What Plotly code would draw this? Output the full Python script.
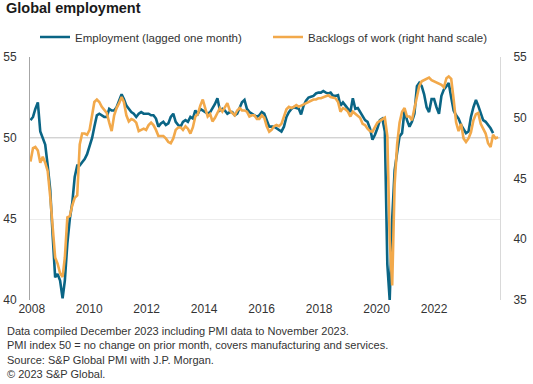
import pandas as pd
import plotly.graph_objects as go

# ---------------- data ----------------
employment = [
    51.1, 51.3, 51.8, 52.2, 50.4, 50.0, 49.6, 48.3, 46.8, 44.0,
    41.4, 41.6, 41.2, 40.1, 41.2, 43.5, 45.0, 46.0, 47.6, 48.3,
    48.3, 48.5, 48.7, 49.0, 49.5, 50.0, 50.7, 51.4, 51.5, 51.4,
    51.3, 51.3, 51.8, 51.7, 51.7, 51.9, 52.3, 52.7, 52.4, 52.0,
    51.8, 51.6, 51.5, 51.3, 51.5, 51.6, 51.5, 51.5, 51.5, 51.4,
    51.4, 51.2, 50.7, 50.9, 51.0, 50.8, 50.9, 51.3, 51.5, 51.0,
    50.8, 50.7, 51.0, 51.1, 51.0, 51.3, 51.2, 51.7, 51.5, 51.8,
    51.7, 51.6, 51.5, 51.6, 51.8, 52.1, 52.45, 51.7, 51.8, 51.7,
    51.5, 51.6, 51.6, 51.4, 51.5, 51.9, 52.2, 52.35, 51.8, 51.6,
    51.5, 51.4, 51.3, 51.4, 51.6, 51.5, 51.1, 50.7, 50.7, 50.7,
    50.6, 50.5, 50.4, 50.7, 51.3, 51.6, 51.8, 51.9, 51.85, 51.8,
    51.45, 52.0, 52.3, 52.5, 52.55, 52.6, 52.75, 52.8, 52.8, 52.9,
    52.8, 52.75, 52.8, 52.6, 52.6, 52.65, 52.0, 52.2, 52.0, 51.8,
    51.6, 52.45, 51.8, 51.85, 51.6, 51.3, 51.1, 51.0, 50.6, 49.9,
    50.2, 50.6, 51.1, 51.2, 50.4, 42.2, 40.0, 45.0, 48.0, 49.1,
    50.1, 50.3, 51.7, 51.1, 50.7, 51.0, 51.5, 53.2, 53.4, 53.2,
    52.7, 51.9, 51.6, 52.4, 52.4, 51.9, 51.5, 52.6, 53.0, 53.2,
    53.4, 52.5, 51.7, 51.4, 51.2, 50.8, 50.5, 50.3, 50.4, 51.3,
    51.9, 52.35, 52.0, 51.5, 51.1, 51.0, 50.8, 50.6, 50.3,
]

backlogs = [
    46.4, 47.5, 47.6, 47.3, 46.3, 46.8, 46.3, 45.6, 43.5, 41.2,
    38.5, 38.0, 37.2, 36.9, 38.5, 41.8, 41.9, 42.8, 43.4, 43.6,
    47.8, 48.7, 48.7, 48.6, 49.0, 50.2, 51.3, 51.5, 51.3, 50.9,
    50.6, 50.4, 49.6, 48.9, 50.2, 50.8, 51.2, 51.7, 51.3, 50.2,
    49.7, 49.9, 49.8, 49.6, 48.9, 49.0, 49.1, 49.0, 49.4, 49.6,
    49.4, 49.0, 48.5, 48.5, 48.5, 48.3, 48.0, 47.9, 48.3, 49.0,
    49.2, 49.2, 49.0, 49.3, 49.1, 48.7, 49.2, 50.1, 50.3, 51.0,
    51.5, 50.8, 50.1, 50.3, 49.7, 50.0, 50.4, 50.8, 50.5, 50.8,
    51.2, 50.6, 50.4, 50.2, 50.6, 50.8, 50.6, 50.6, 50.5, 50.1,
    50.2, 50.2, 49.9, 49.9, 50.2, 50.0, 49.3, 48.85, 49.0, 49.3,
    49.4, 49.3, 49.5, 50.2, 50.7, 50.9, 50.8, 50.9, 51.05, 50.9,
    51.0, 51.1, 51.2, 51.3, 51.4, 51.5, 51.5, 51.6, 51.6, 51.7,
    51.8, 51.85, 51.7, 51.65, 51.6, 51.3, 50.5, 50.8, 50.7, 50.5,
    50.1, 50.5, 50.3, 50.1, 50.0, 49.5, 49.4, 49.1, 48.9, 48.85,
    49.3, 49.6, 49.75, 49.9, 50.0, 48.5, 40.0, 36.2, 44.5, 47.8,
    49.6, 50.5, 50.8, 50.1, 50.1, 49.8, 50.8, 51.8, 52.6, 53.0,
    53.1, 53.2, 53.3, 53.1, 53.0, 52.9, 52.8, 52.7, 52.5, 53.25,
    53.4, 53.2, 51.5, 49.6, 48.9, 49.5, 48.3, 48.0, 48.3, 48.8,
    49.8, 50.3, 50.4, 49.5, 49.1, 48.7, 47.9, 47.6, 48.6, 48.3,
    48.4,
]

start_month = "2008-01-01"
tick_labels = ["2008", "2010", "2012", "2014", "2016", "2018", "2020", "2022"]
left_ticks = [40, 45, 50, 55]
right_ticks = [35, 40, 45, 50, 55]

title = "<b>Global employment</b>"
names = ["Employment (lagged one month)", "Backlogs of work (right hand scale)"]
footnotes = [
    "Data compiled December 2023 including PMI data to November 2023.",
    "PMI index 50 = no change on prior month, covers manufacturing and services.",
    "Source: S&P Global PMI with J.P. Morgan.",
    "\u00a9 2023 S&P Global.",
]

# ---------------- build ----------------
emp_x = pd.date_range(start_month, periods=len(employment), freq="MS")
bkl_x = pd.date_range(start_month, periods=len(backlogs), freq="MS")

t0 = pd.Timestamp(start_month)
month_days = 30.4375
def month_offset(m):
    return t0 + pd.Timedelta(days=m * month_days)

tick_vals = [month_offset(0.5 + 23.36 * i) for i in range(len(tick_labels))]
x_range = [month_offset(-0.2), month_offset(190.8)]

FONT = "Arial, 'Liberation Sans', sans-serif"
BLUE = "#0A6585"
ORANGE = "#F2A94B"
L, R, T, B = 30, 33, 57, 84
PW = 533 - L - R
PH = 384 - T - B

fig = go.Figure()
fig.add_trace(go.Scatter(x=emp_x, y=employment, name=names[0], mode="lines",
                         line=dict(color=BLUE, width=2.6), yaxis="y", legend="legend"))
fig.add_trace(go.Scatter(x=bkl_x, y=backlogs, name=names[1], mode="lines",
                         line=dict(color=ORANGE, width=2.6), yaxis="y2", legend="legend2"))

fig.add_shape(type="line", xref="paper", yref="y", x0=0, x1=1, y0=50, y1=50,
              line=dict(color="#A6A6A6", width=1), layer="below")

leg_common = dict(orientation="h", xanchor="left", yanchor="middle",
                  y=1 + (T - 37) / PH, font=dict(size=11.5, color="#333333"),
                  itemwidth=30, bgcolor="rgba(0,0,0,0)")

fig.update_layout(
    width=533, height=384,
    margin=dict(l=L, r=R, t=T, b=B, autoexpand=False),
    paper_bgcolor="white", plot_bgcolor="white",
    font=dict(family=FONT, size=12, color="#333333"),
    title=dict(text=title, x=6 / 533, xanchor="left", xref="container",
               y=1 - 3 / 384, yanchor="top", yref="container",
               font=dict(size=14.5, color="#1a1a1a", family=FONT)),
    showlegend=True,
    legend=dict(x=(35 - L) / PW, **leg_common),
    legend2=dict(x=(268 - L) / PW, **leg_common),
    xaxis=dict(type="date", range=x_range, tickvals=tick_vals, ticktext=tick_labels,
               showgrid=False, zeroline=False, showline=False, ticks="",
               automargin=False, tickfont=dict(size=12, color="#333333")),
    yaxis=dict(range=[40, 55], tickvals=left_ticks, showgrid=True, gridcolor="#ECECEC",
               gridwidth=1, zeroline=False, showline=True, linecolor="#A6A6A6",
               linewidth=1, ticks="", ticklabelstandoff=10, automargin=False,
               tickfont=dict(size=12, color="#333333")),
    yaxis2=dict(range=[35, 55], tickvals=right_ticks, overlaying="y", side="right",
                showgrid=False, zeroline=False, showline=True, linecolor="#D9D9D9",
                linewidth=1, ticks="", ticklabelstandoff=10, automargin=False,
                tickfont=dict(size=12, color="#333333")),
)

fig.add_annotation(text="<br>".join(footnotes), xref="paper", yref="paper",
                   x=(5 - L) / PW, y=-(323 - (T + PH)) / PH, xanchor="left", yanchor="top",
                   align="left", showarrow=False,
                   font=dict(size=11, color="#333333", family=FONT))

fig.write_html("out.html", config={"displayModeBar": False},
               post_script="document.body.style.margin='0';document.body.style.padding='0';")
